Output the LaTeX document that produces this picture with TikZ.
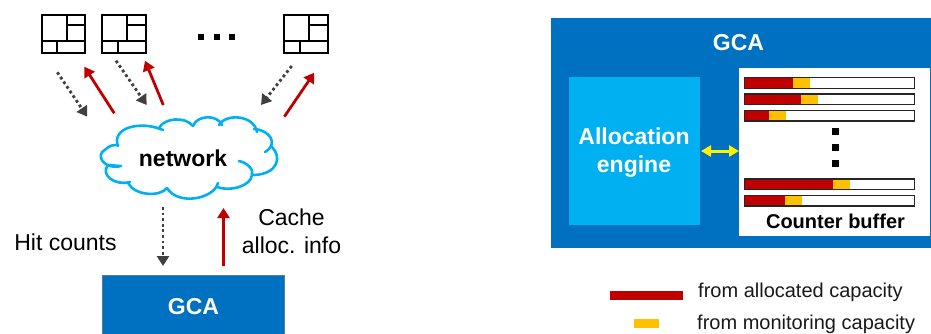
\documentclass[tikz,border=0pt]{standalone}
\usepackage{fontspec}
\setmainfont{Liberation Sans}
\usetikzlibrary{arrows.meta}
\definecolor{gcablue}{HTML}{0070C0}
\definecolor{skyb}{HTML}{00B0F0}
\definecolor{redc}{HTML}{C00000}
\definecolor{amber}{HTML}{FFC000}
\definecolor{grayd}{HTML}{404040}
\newcommand{\boxfrom}[5]{\node[anchor=north west,inner sep=0pt,outer sep=0pt,minimum width=#3pt-#1pt,minimum height=#4pt-#2pt,#5] at (#1,#2)}
\newcommand{\tenant}[3]{%
  \node[anchor=north west,draw=black,line width=2pt,inner sep=0pt,outer sep=0pt,minimum width=43.3pt,minimum height=37.7pt] (#1) at (#2,#3) {};
  \draw[line width=2pt] (#2+25,#3) -- (#2+25,#3+26) (#2,#3+26) -- (#2+43.3,#3+26)
    (#2+25,#3+10) -- (#2+43.3,#3+10) (#2+15.6,#3+26) -- (#2+15.6,#3+37.7);}
\newcommand{\ctrbar}[4]{%
  \fill[white] (744.5,#1) rectangle (914.5,#1+10.5);
  \fill[redc] (744.5,#1) rectangle (#2,#1+10.5);
  \fill[amber] (#2,#1) rectangle (#3,#1+10.5);
  \draw[line width=1.1pt,draw=black!85] (744.5,#1) rectangle (914.5,#1+10.5);}
\tikzset{
  hitarrow/.style={draw=grayd,line width=2.8pt,dash pattern=on 2.8pt off 2.8pt,-{Triangle[length=10pt,width=12pt,fill=grayd]}},
  infoarrow/.style={draw=redc,line width=2.8pt,-{Triangle[length=10pt,width=12pt,fill=redc]}},
  lbl/.style={font=\fontsize{23}{26}\selectfont,inner sep=0pt,text=black},
  blbl/.style={font=\fontsize{23}{26}\selectfont\bfseries,inner sep=0pt},
  legendtxt/.style={font=\fontsize{20}{24}\selectfont,inner sep=0pt,anchor=west,text=black!90},
  dotsq/.style={fill=black,inner sep=0pt,minimum size=#1},
  cloudline/.style={draw=skyb,line width=2.6pt,line cap=round}
}
\begin{document}
\begin{tikzpicture}[x=1pt,y=-1pt]
\clip (0,0) rectangle (931,333);
\fill[white] (0,0) rectangle (931,333);
% tenants
\tenant{t1}{41.7}{15}
\tenant{t2}{102.2}{15}
\tenant{t3}{284.2}{15}
\node[dotsq=6pt] (d1) at (200.5,36.5) {};
\node[dotsq=6pt] (d2) at (216.5,36.5) {};
\node[dotsq=6pt] (d3) at (232,36.5) {};
% cloud
\fill[white] (118,145) -- (140,125) -- (177,120) -- (208,117) -- (237,117) -- (273,140) -- (277,160) -- (252,178) -- (192,200) -- (150,195) -- (105,172) -- (101,158) -- cycle;
\draw[cloudline]
 (118,146) .. controls (111,128) and (140,120) .. (163,130)
 (159,128) .. controls (164,118) and (185,116) .. (193,126)
 (193,126) .. controls (197,115) and (217,114) .. (222,125)
 (219,125) .. controls (226,113) and (254,115) .. (257,132)
 (254,129) .. controls (270,130) and (279,144) .. (265,152)
 (272,147) .. controls (282,157) and (278,174) .. (254,175)
 (239,161) .. controls (248,163) and (254,170) .. (252,175)
 (252,175) .. controls (251,186) and (230,192) .. (217,187)
 (218,183) .. controls (214,199) and (178,206) .. (167,188)
 (167,188) .. controls (160,197) and (135,196) .. (128,183)
 (130,182) .. controls (115,186) and (100,175) .. (108,165)
 (108,165) .. controls (111,165) and (117,166) .. (121,166)
 (121,166) .. controls (104,170) and (94,155) .. (106,149)
 (106,149) .. controls (110,145) and (114,145) .. (118,145);
\node[blbl,text=black] (net) at (183,158) {network};
% arrows
\coordinate (a1s) at (57.3,72.3); \coordinate (a1e) at (87.3,116.7);
\coordinate (b1s) at (114.3,113.3); \coordinate (b1e) at (84.3,66.7);
\coordinate (a2s) at (116,60.7); \coordinate (a2e) at (146.7,105);
\coordinate (b2s) at (163.3,105); \coordinate (b2e) at (145,60.7);
\coordinate (a3s) at (291.7,66); \coordinate (a3e) at (261,105);
\coordinate (b3s) at (284.3,116.7); \coordinate (b3e) at (314.3,72.7);
\coordinate (a4s) at (163,207); \coordinate (a4e) at (163,266);
\coordinate (b4s) at (223.5,266); \coordinate (b4e) at (223.5,208);
\draw[hitarrow] (a1s) -- (a1e);
\draw[infoarrow] (b1s) -- (b1e);
\draw[hitarrow] (a2s) -- (a2e);
\draw[infoarrow] (b2s) -- (b2e);
\draw[hitarrow] (a3s) -- (a3e);
\draw[infoarrow] (b3s) -- (b3e);
\draw[hitarrow] (a4s) -- (a4e);
\draw[infoarrow] (b4s) -- (b4e);
\node[lbl] (hit) at (65.5,242) {Hit counts};
\node[lbl] (cache) at (291.5,217.5) {Cache};
\node[lbl] (alloc) at (291.5,245.5) {alloc. info};
% small GCA
\boxfrom{102.5}{275.5}{284}{345}{fill=gcablue,draw=gray!70!gcablue,line width=0.8pt} (gcaS) {};
\node[blbl,text=white] (gcaSt) at (193.5,306.5) {GCA};
% big GCA
\boxfrom{551}{18}{932}{248}{fill=gcablue} (gcaB) {};
\node[blbl,text=white] (gcaBt) at (738.5,43) {GCA};
\boxfrom{569}{77}{700}{225}{fill=skyb} (engine) {};
\node[blbl,text=white,align=center] (enginet) at (634,153) {Allocation\\[2pt]engine};
\boxfrom{739}{68}{930}{236}{fill=white} (cbuf) {};
\draw[draw=yellow,line width=3pt,{Triangle[length=10pt,width=11pt]}-{Triangle[length=10pt,width=11pt]}] (engine.east) ++(1,0) coordinate (y1) (y1) -- (y1 -| cbuf.west);
\ctrbar{77.7}{793}{810}{}
\ctrbar{94}{801}{818}{}
\ctrbar{110.5}{769}{786}{}
\ctrbar{179}{833}{850}{}
\ctrbar{195.5}{785}{802}{}
\node[dotsq=7pt] (v1) at (835,131.7) {};
\node[dotsq=7pt] (v2) at (835,147.5) {};
\node[dotsq=7pt] (v3) at (835,163) {};
\node[font=\fontsize{20}{24}\selectfont\bfseries,inner sep=0pt,text=black] (cbt) at (835.5,221) {Counter buffer};
% legend
\boxfrom{610}{291}{683}{300}{fill=redc} (lr) {};
\boxfrom{634}{319}{659}{328}{fill=amber} (ly) {};
\node[legendtxt] (lrt) at (698,292) {from allocated capacity};
\node[legendtxt] (lyt) at (697,324) {from monitoring capacity};
\end{tikzpicture}
\end{document}
